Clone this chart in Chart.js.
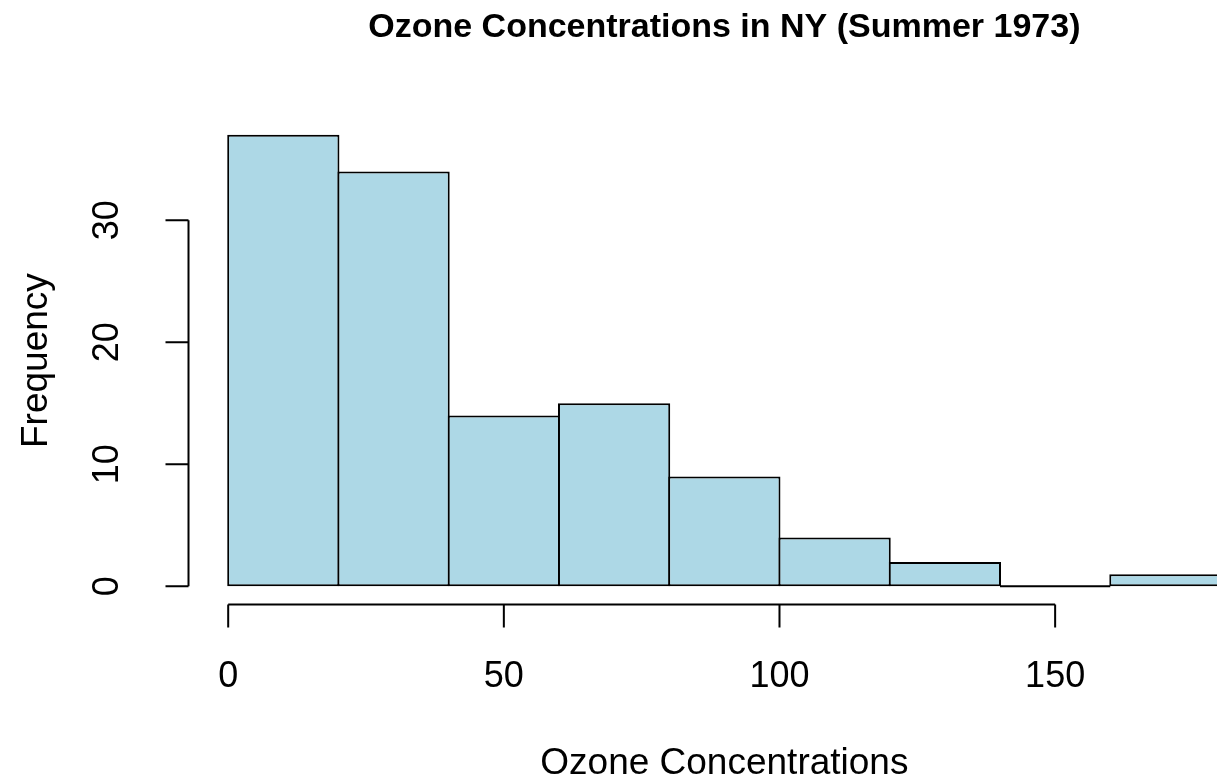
<!DOCTYPE html>
<html>
<head>
<meta charset="utf-8">
<script src="https://cdn.jsdelivr.net/npm/chart.js@4/dist/chart.umd.min.js"></script>
<style>
  html, body { margin: 0; padding: 0; background: #ffffff; overflow: hidden; }
  #wrap { width: 1217px; height: 779px; }
</style>
</head>
<body>
<div id="wrap"><canvas id="c" width="1217" height="779"></canvas></div>
<script>
// ---- data ----
const binEdges = [0, 20, 40, 60, 80, 100, 120, 140, 160, 180];
const counts = [37, 34, 14, 15, 9, 4, 2, 0, 1];
const xTicks = [0, 50, 100, 150];
const yTicks = [0, 10, 20, 30];
const titleText = "Ozone Concentrations in NY (Summer 1973)";
const xLabel = "Ozone Concentrations";
const yLabel = "Frequency";

const barData = counts.map((c, i) => ({ x: (binEdges[i] + binEdges[i + 1]) / 2, y: c }));

const FONT = '"Liberation Sans", Arial, Helvetica, sans-serif';

const rAxesPlugin = {
  id: 'rAxes',
  afterDatasetsDraw(chart) {
    const ctx = chart.ctx;
    const xs = chart.scales.x, ys = chart.scales.y;
    // zero-height bins drawn as flat line (like R)
    ctx.save();
    ctx.strokeStyle = '#000';
    ctx.lineWidth = 2;
    counts.forEach((c, i) => {
      if (c === 0) {
        const y0 = ys.getPixelForValue(0);
        ctx.beginPath();
        ctx.moveTo(xs.getPixelForValue(binEdges[i]), y0);
        ctx.lineTo(xs.getPixelForValue(binEdges[i + 1]), y0);
        ctx.stroke();
      }
    });
    ctx.restore();
  },
  afterDraw(chart) {
    const ctx = chart.ctx;
    const xs = chart.scales.x, ys = chart.scales.y;
    const area = chart.chartArea;
    const tick = 23;
    ctx.save();
    ctx.strokeStyle = '#000';
    ctx.fillStyle = '#000';
    ctx.lineWidth = 2;
    ctx.lineCap = 'butt';

    // x axis (below plot region)
    const ax = area.bottom;
    const x0 = xs.getPixelForValue(xTicks[0]);
    const x1 = xs.getPixelForValue(xTicks[xTicks.length - 1]);
    ctx.beginPath();
    ctx.moveTo(x0, ax); ctx.lineTo(x1, ax);
    xTicks.forEach(v => {
      const px = xs.getPixelForValue(v);
      ctx.moveTo(px, ax); ctx.lineTo(px, ax + tick);
    });
    ctx.stroke();
    ctx.font = '36px ' + FONT;
    ctx.textAlign = 'center';
    ctx.textBaseline = 'alphabetic';
    xTicks.forEach(v => {
      ctx.fillText(String(v), xs.getPixelForValue(v), ax + 82.5);
    });

    // y axis (left of plot region)
    const ay = area.left;
    const y0 = ys.getPixelForValue(yTicks[0]);
    const y1 = ys.getPixelForValue(yTicks[yTicks.length - 1]);
    ctx.beginPath();
    ctx.moveTo(ay, y0); ctx.lineTo(ay, y1);
    yTicks.forEach(v => {
      const py = ys.getPixelForValue(v);
      ctx.moveTo(ay, py); ctx.lineTo(ay - tick, py);
    });
    ctx.stroke();
    yTicks.forEach(v => {
      const py = ys.getPixelForValue(v);
      ctx.save();
      ctx.translate(ay - 70.5, py);
      ctx.rotate(-Math.PI / 2);
      ctx.textAlign = 'center';
      ctx.textBaseline = 'alphabetic';
      ctx.fillText(String(v), 0, 0);
      ctx.restore();
    });

    // title
    const cx = (area.left + xs.getPixelForValue(187.2)) / 2;
    ctx.font = 'bold 34px ' + FONT;
    ctx.textAlign = 'center';
    ctx.fillText(titleText, cx, 36.5);

    // x label
    ctx.font = '37px ' + FONT;
    ctx.fillText(xLabel, cx, 774);

    // y label
    ctx.save();
    ctx.translate(47, (area.top + area.bottom) / 2);
    ctx.rotate(-Math.PI / 2);
    ctx.textAlign = 'center';
    ctx.fillText(yLabel, 0, 0);
    ctx.restore();

    ctx.restore();
  }
};

new Chart(document.getElementById('c'), {
  type: 'bar',
  data: {
    datasets: [{
      data: barData,
      backgroundColor: '#ADD8E6',
      borderColor: '#000000',
      borderWidth: 2,
      borderSkipped: false,
      inflateAmount: 0,
      barPercentage: 1.018,
      categoryPercentage: 1.0
    }]
  },
  options: {
    responsive: false,
    animation: false,
    events: [],
    layout: { padding: { left: 188.5, top: 116.8, right: 0, bottom: 174.6 } },
    plugins: { legend: { display: false }, tooltip: { enabled: false }, title: { display: false } },
    scales: {
      x: {
        type: 'linear', display: false, offset: false, min: -7.2, max: 179.36,
        grid: { display: false },
        afterBuildTicks: scale => { scale.ticks = barData.map(d => ({ value: d.x })); }
      },
      y: { type: 'linear', display: false, min: -1.48, max: 38.48, grid: { display: false } }
    }
  },
  plugins: [rAxesPlugin]
});
</script>
</body>
</html>
